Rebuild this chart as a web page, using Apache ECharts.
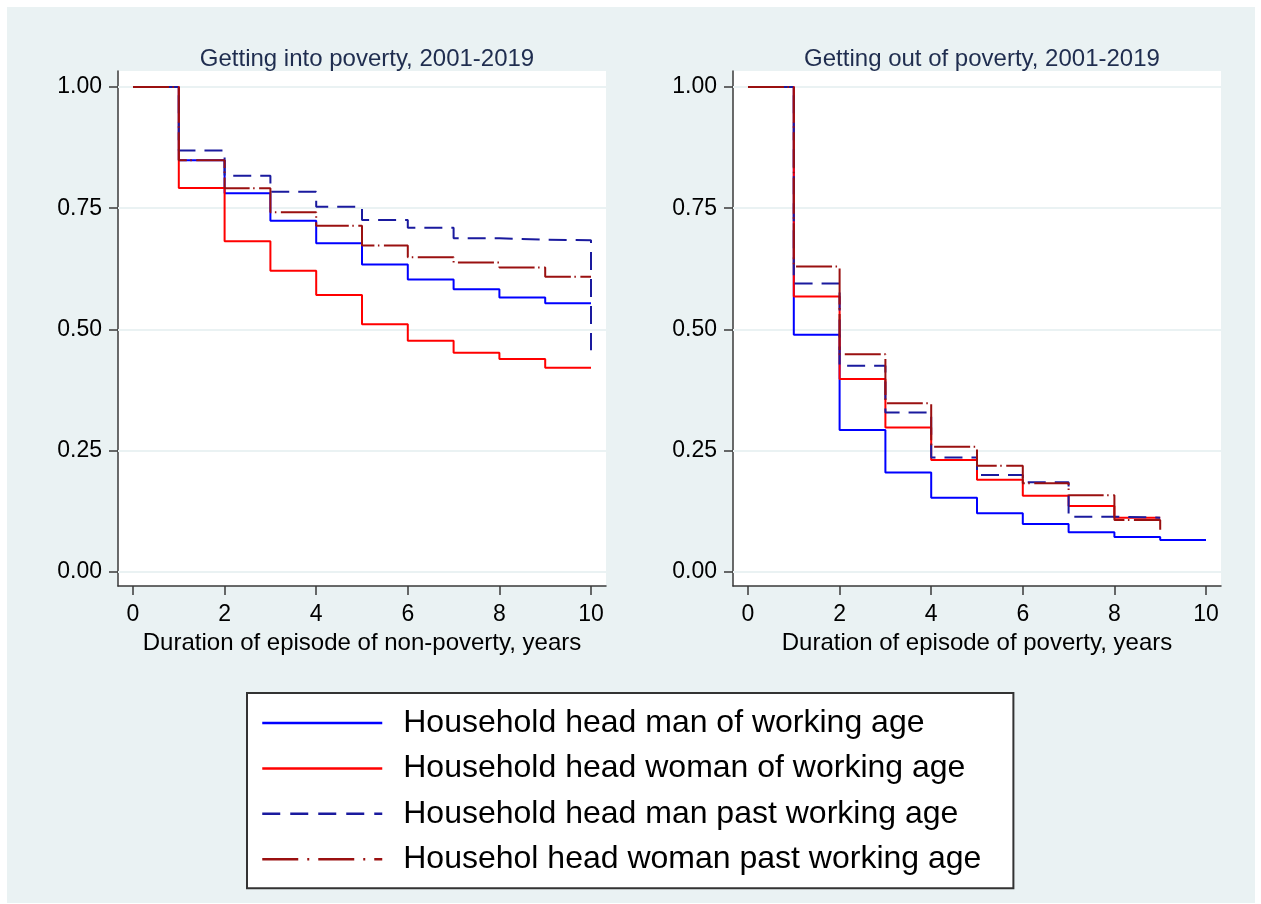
<!DOCTYPE html>
<html>
<head>
<meta charset="utf-8">
<script src="https://cdn.jsdelivr.net/npm/echarts@6/dist/echarts.min.js"></script>
<style>
  html, body { margin: 0; padding: 0; background: #ffffff; }
  #frame { position: absolute; left: 7px; top: 7px; width: 1248px; height: 896px; background: #eaf2f3; }
  #chart { position: absolute; left: 0; top: 0; width: 1261px; height: 904px; }
</style>
</head>
<body>
<div id="frame"></div>
<div id="chart"></div>
<script>
// Survival years (analysis time) for both panels
const durations = [0, 1, 2, 3, 4, 5, 6, 7, 8, 9, 10];

// Tick labels
const durationTicks = [0, 2, 4, 6, 8, 10];
const probTicks = [0, 0.25, 0.5, 0.75, 1];

// Group names (legend)
const groupNames = [
  'Household head man of working age',
  'Household head woman of working age',
  'Household head man past working age',
  'Househol head woman past working age'
];

// Panel titles and axis titles
const panelTitles = ['Getting into poverty, 2001-2019', 'Getting out of poverty, 2001-2019'];
const axisTitles = ['Duration of episode of non-poverty, years', 'Duration of episode of poverty, years'];

// Kaplan-Meier survivor estimates: getting into poverty (survival in non-poverty)
const intoManWorking   = [1, 0.849, 0.781, 0.724, 0.678, 0.634, 0.603, 0.583, 0.566, 0.554, 0.554];
const intoWomanWorking = [1, 0.792, 0.682, 0.621, 0.571, 0.511, 0.477, 0.452, 0.439, 0.421, 0.421];
const intoManPast      = [1, 0.869, 0.817, 0.784, 0.753, 0.726, 0.710, 0.688, 0.685, 0.684, 0.457];
const intoWomanPast    = [1, 0.849, 0.791, 0.742, 0.714, 0.673, 0.649, 0.638, 0.628, 0.609, 0.609];

// Kaplan-Meier survivor estimates: getting out of poverty (survival in poverty)
const outManWorking    = [1, 0.489, 0.293, 0.205, 0.153, 0.121, 0.099, 0.082, 0.072, 0.066, 0.066];
const outWomanWorking  = [1, 0.568, 0.398, 0.298, 0.231, 0.190, 0.157, 0.136, 0.112, 0.112];
const outManPast       = [1, 0.595, 0.425, 0.329, 0.236, 0.200, 0.185, 0.114, 0.112, 0.112];
const outWomanPast     = [1, 0.630, 0.449, 0.348, 0.258, 0.219, 0.183, 0.158, 0.107, 0.087];

const FONT = '"Liberation Sans", Arial, sans-serif';
const lineStyles = [
  { color: '#0000ff', width: 2, type: 'solid' },
  { color: '#ff0000', width: 2, type: 'solid' },
  { color: '#1a1a9e', width: 2, type: [18, 9] },
  { color: '#9a1010', width: 2, type: [36, 3.5, 1.5, 4.5] }
];
// legend keys use a slightly heavier stroke and a more open dash-dot
const legendKeyStyles = [
  { width: 2.5 },
  { width: 2.5 },
  { width: 2.5, type: [18, 10] },
  { width: 2.5, type: [36, 9, 2, 9] }
];

function toSteps(values) {
  return values.map((v, i) => [durations[i], v]);
}

const panels = [
  [intoManWorking, intoWomanWorking, intoManPast, intoWomanPast],
  [outManWorking, outWomanWorking, outManPast, outWomanPast]
];

const gridLeft = [118, 733];
const grids = gridLeft.map(l => ({
  left: l, top: 71, width: 488, height: 515,
  show: true, backgroundColor: '#ffffff', borderWidth: 0
}));

const axisColor = '#3a3a3a';
const xAxes = gridLeft.map((l, i) => ({
  type: 'value', gridIndex: i, min: -0.3275, max: 10.3275,
  name: axisTitles[i], nameLocation: 'middle', nameGap: 42,
  nameTextStyle: { fontSize: 24, color: '#000', fontFamily: FONT },
  axisLine: { show: true, onZero: false, lineStyle: { color: axisColor, width: 1.5 } },
  axisTick: { show: true, length: 9, customValues: durationTicks, lineStyle: { color: axisColor, width: 1.5 } },
  axisLabel: { customValues: durationTicks, margin: 17, fontSize: 23, color: '#000', fontFamily: FONT },
  splitLine: { show: false }
}));
const yAxes = gridLeft.map((l, i) => ({
  type: 'value', gridIndex: i, min: -0.0289, max: 1.033,
  axisLine: { show: true, onZero: false, lineStyle: { color: axisColor, width: 1.5 } },
  axisTick: { show: true, length: 9, customValues: probTicks, lineStyle: { color: axisColor, width: 1.5 } },
  axisLabel: { customValues: probTicks, margin: 16, fontSize: 23, color: '#000', fontFamily: FONT,
               formatter: v => v.toFixed(2) },
  splitLine: { show: false }
}));

const series = [];
panels.forEach((groups, p) => {
  // horizontal reference lines at the y ticks, drawn under the curves
  series.push({
    type: 'line', xAxisIndex: p, yAxisIndex: p, z: 1, silent: true,
    data: [[0, 0]], showSymbol: false, lineStyle: { opacity: 0 },
    markLine: {
      z: 1, silent: true, symbol: 'none', label: { show: false },
      lineStyle: { color: '#eaf2f3', width: 2, type: 'solid' },
      data: probTicks.map(t => ({ yAxis: t }))
    }
  });
  groups.forEach((vals, g) => {
    series.push({
      name: groupNames[g], type: 'line', step: 'end', z: 3,
      xAxisIndex: p, yAxisIndex: p,
      data: toSteps(vals), symbol: 'none', showSymbol: false,
      lineStyle: lineStyles[g], itemStyle: { color: lineStyles[g].color },
      emphasis: { disabled: true }
    });
  });
});

const chart = echarts.init(document.getElementById('chart'), null, { renderer: 'canvas' });
chart.setOption({
  animation: false,
  backgroundColor: 'transparent',
  title: panelTitles.map((t, i) => ({
    text: t, left: gridLeft[i] + 244, top: 42, textAlign: 'center',
    textStyle: { fontSize: 24, fontWeight: 'normal', color: '#1f2d4f', fontFamily: FONT }
  })),
  legend: {
    data: groupNames.map((n, g) => ({
      name: n,
      lineStyle: Object.assign({ color: lineStyles[g].color }, legendKeyStyles[g])
    })),
    orient: 'vertical', left: 247, top: 693,
    backgroundColor: '#ffffff', borderColor: '#333333', borderWidth: 2,
    padding: [13, 32, 12, 14], itemGap: 11.4, itemWidth: 120, itemHeight: 20,
    selectedMode: false,
    itemStyle: { opacity: 0 },
    textStyle: { fontSize: 32, color: '#000', fontFamily: FONT, lineHeight: 34, padding: [0, 0, 0, 16] }
  },
  grid: grids,
  xAxis: xAxes,
  yAxis: yAxes,
  series: series
});
</script>
</body>
</html>
